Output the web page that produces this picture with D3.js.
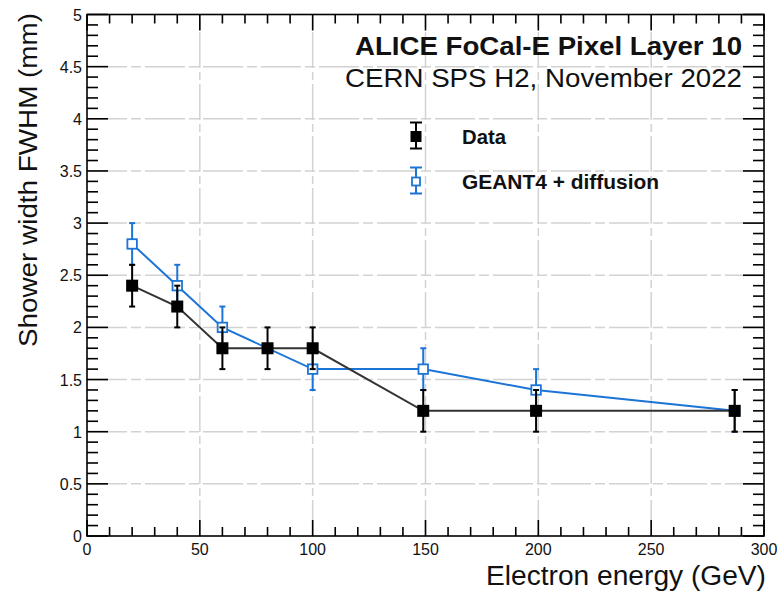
<!DOCTYPE html>
<html>
<head>
<meta charset="utf-8">
<script src="https://cdn.jsdelivr.net/npm/d3@7"></script>
<style>
  html, body { margin: 0; padding: 0; background: #fff; }
  svg { display: block; }
  text { font-family: "Liberation Sans", Arial, Helvetica, sans-serif; }
</style>
</head>
<body>
<svg id="chart" width="778" height="592"></svg>
<script>
// Beam energies (GeV) and measured shower widths (mm)
const dataEnergy = [20, 40, 60, 80, 100, 149, 199, 287];
const dataWidth  = [2.4, 2.2, 1.8, 1.8, 1.8, 1.2, 1.2, 1.2];
const dataErr    = [0.2, 0.2, 0.2, 0.2, 0.2, 0.2, 0.2, 0.2];

// Simulation: GEANT4 + diffusion
const simEnergy = [20, 40, 60, 100, 149, 199, 287];
const simWidth  = [2.8, 2.4, 2.0, 1.6, 1.6, 1.4, 1.2];
const simErr    = [0.2, 0.2, 0.2, 0.2, 0.2, 0.2, 0.2];

const xTicks = [0, 50, 100, 150, 200, 250, 300];
const yTicks = [0, 0.5, 1, 1.5, 2, 2.5, 3, 3.5, 4, 4.5, 5];

const W = 778, H = 592;
const m = { left: 87, right: 14, top: 14.5, bottom: 56 };
const svg = d3.select("#chart");

const x = d3.scaleLinear().domain([0, 300]).range([m.left, W - m.right]);
const y = d3.scaleLinear().domain([0, 5]).range([H - m.bottom, m.top]);

const BLUE = "#1c74d6";
const BLACK = "#000";

// Grid
const grid = svg.append("g").attr("stroke", "#d2d2d2").attr("stroke-width", 1.5).attr("fill", "none");
grid.selectAll("line.gx").data(xTicks.slice(1, -1)).join("line")
  .attr("x1", d => x(d)).attr("x2", d => x(d))
  .attr("y1", y(0)).attr("y2", y(5))
  .attr("stroke-dasharray", "36,4,8,4");
grid.selectAll("line.gy").data(yTicks.slice(1, -1)).join("line")
  .attr("x1", x(0)).attr("x2", x(300))
  .attr("y1", d => y(d)).attr("y2", d => y(d))
  .attr("stroke-dasharray", "40,4,10,4");

// Axes with inward major/minor ticks on all four sides
const minorX = d3.range(0, 301, 10);
const minorY = d3.range(0, 5.001, 0.1).map(v => +v.toFixed(1));

function tickLines(g, vals, isMajor, fn) {
  g.selectAll(null).data(vals).join("line").each(function (d) { fn(d3.select(this), d, isMajor(d)); });
}
const axes = svg.append("g").attr("stroke", "#000").attr("stroke-width", 1.6);
const isMajX = d => d % 50 === 0;
const isMajY = d => Math.abs(d * 2 - Math.round(d * 2)) < 1e-6;

// bottom
tickLines(axes.append("g"), minorX, isMajX, (s, d, maj) =>
  s.attr("x1", x(d)).attr("x2", x(d)).attr("y1", y(0)).attr("y2", y(0) - (maj ? 16 : 9)));
// top
tickLines(axes.append("g"), minorX, isMajX, (s, d, maj) =>
  s.attr("x1", x(d)).attr("x2", x(d)).attr("y1", y(5)).attr("y2", y(5) + (maj ? 16 : 9)));
// left
tickLines(axes.append("g"), minorY, isMajY, (s, d, maj) =>
  s.attr("x1", x(0)).attr("x2", x(0) + (maj ? 21 : 11)).attr("y1", y(d)).attr("y2", y(d)));
// right
tickLines(axes.append("g"), minorY, isMajY, (s, d, maj) =>
  s.attr("x1", x(300)).attr("x2", x(300) - (maj ? 21 : 11)).attr("y1", y(d)).attr("y2", y(d)));

axes.append("rect")
  .attr("x", x(0)).attr("y", y(5))
  .attr("width", x(300) - x(0)).attr("height", y(0) - y(5))
  .attr("fill", "none");

// Tick labels
const fmt = d => String(d);
svg.append("g").selectAll("text").data(xTicks).join("text")
  .attr("x", d => x(d)).attr("y", y(0) + 19)
  .attr("text-anchor", "middle")
  .attr("font-family", "'DejaVu Sans', sans-serif")
  .attr("font-size", 16).attr("fill", "#111")
  .text(fmt);
svg.append("g").selectAll("text").data(yTicks).join("text")
  .attr("x", x(0) - 5).attr("y", d => y(d) + 6)
  .attr("text-anchor", "end")
  .attr("font-family", "'DejaVu Sans', sans-serif")
  .attr("font-size", 16).attr("fill", "#111")
  .text(fmt);

// Axis titles
svg.append("text")
  .attr("x", 766).attr("y", 585)
  .attr("text-anchor", "end")
  .attr("font-size", 27).attr("fill", "#111")
  .attr("textLength", 280).attr("lengthAdjust", "spacingAndGlyphs")
  .text("Electron energy (GeV)");
svg.append("text")
  .attr("transform", "translate(37,347) rotate(-90)")
  .attr("text-anchor", "start")
  .attr("font-size", 26).attr("fill", "#111")
  .attr("textLength", 334).attr("lengthAdjust", "spacingAndGlyphs")
  .text("Shower width FWHM (mm)");

// Series: connecting line, error bars with short caps, square markers
function drawSeries(xs, ys, es, color, lineColor, filled, size, lw) {
  const g = svg.append("g");
  const pts = xs.map((v, i) => ({ x: v, y: ys[i], e: es[i] }));
  g.append("path").datum(pts)
    .attr("fill", "none").attr("stroke", lineColor).attr("stroke-width", lw)
    .attr("d", d3.line().x(d => x(d.x)).y(d => y(d.y)));
  const eb = g.append("g").attr("stroke", color).attr("stroke-width", 2);
  eb.selectAll("line.v").data(pts).join("line")
    .attr("x1", d => x(d.x)).attr("x2", d => x(d.x))
    .attr("y1", d => y(d.y - d.e)).attr("y2", d => y(d.y + d.e));
  eb.selectAll("line.t").data(pts).join("line")
    .attr("x1", d => x(d.x) - 3).attr("x2", d => x(d.x) + 3)
    .attr("y1", d => y(d.y + d.e)).attr("y2", d => y(d.y + d.e));
  eb.selectAll("line.b").data(pts).join("line")
    .attr("x1", d => x(d.x) - 3).attr("x2", d => x(d.x) + 3)
    .attr("y1", d => y(d.y - d.e)).attr("y2", d => y(d.y - d.e));
  g.selectAll("rect").data(pts).join("rect")
    .attr("x", d => x(d.x) - size / 2).attr("y", d => y(d.y) - size / 2)
    .attr("width", size).attr("height", size)
    .attr("fill", filled ? color : "#fff")
    .attr("stroke", filled ? "none" : color).attr("stroke-width", 1.8);
}
drawSeries(simEnergy, simWidth, simErr, BLUE, BLUE, false, 9.5, 2);
drawSeries(dataEnergy, dataWidth, dataErr, BLACK, "#333", true, 12, 2);

// Header text
svg.append("text")
  .attr("x", 742).attr("y", 55).attr("text-anchor", "end")
  .attr("font-size", 25).attr("font-weight", "bold").attr("fill", "#111")
  .attr("textLength", 387).attr("lengthAdjust", "spacingAndGlyphs")
  .text("ALICE FoCal-E Pixel Layer 10");
svg.append("text")
  .attr("x", 742).attr("y", 87).attr("text-anchor", "end")
  .attr("font-size", 26).attr("fill", "#111")
  .attr("textLength", 397).attr("lengthAdjust", "spacingAndGlyphs")
  .text("CERN SPS H2, November 2022");

// Legend
const legend = svg.append("g");
const legItems = [
  { label: "Data", color: BLACK, filled: true, cy: 136.5, size: 11, len: 44 },
  { label: "GEANT4 + diffusion", color: BLUE, filled: false, cy: 181.5, size: 8, len: 197 }
];
legItems.forEach(it => {
  const lx = 416;
  const g = legend.append("g").attr("stroke", it.color).attr("stroke-width", 2);
  g.append("line").attr("x1", lx).attr("x2", lx).attr("y1", it.cy - 14).attr("y2", it.cy + 12);
  g.append("line").attr("x1", lx - 6).attr("x2", lx + 6).attr("y1", it.cy - 14).attr("y2", it.cy - 14);
  g.append("line").attr("x1", lx - 6).attr("x2", lx + 6).attr("y1", it.cy + 12).attr("y2", it.cy + 12);
  g.append("rect")
    .attr("x", lx - it.size / 2).attr("y", it.cy - it.size / 2)
    .attr("width", it.size).attr("height", it.size)
    .attr("fill", it.filled ? it.color : "#fff")
    .attr("stroke", it.filled ? "none" : it.color).attr("stroke-width", 1.8);
  legend.append("text")
    .attr("x", 462).attr("y", it.cy + 7.5)
    .attr("font-size", 20).attr("font-weight", "bold").attr("fill", "#111")
    .attr("textLength", it.len).attr("lengthAdjust", "spacingAndGlyphs")
    .text(it.label);
});
</script>
</body>
</html>
